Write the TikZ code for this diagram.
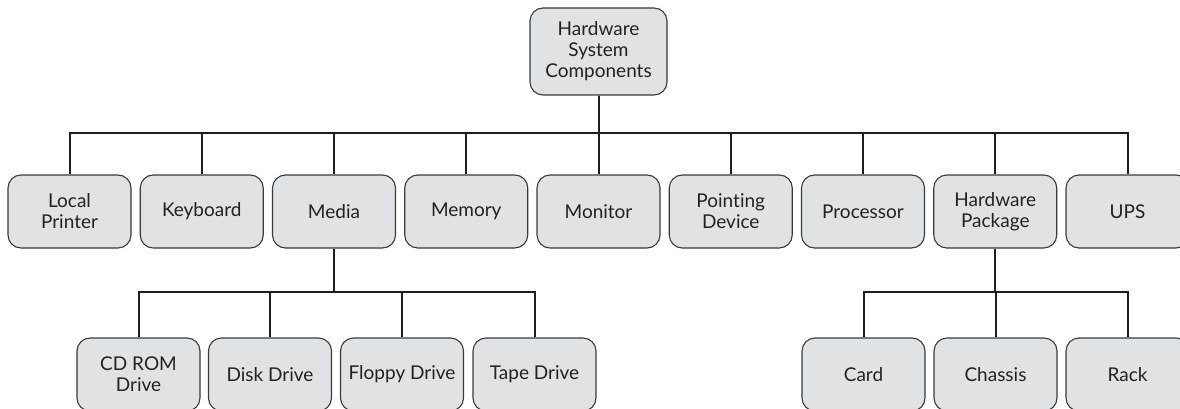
\documentclass[tikz,border=0pt]{standalone}
\usepackage{fontspec}
\setmainfont{Lato}[Ligatures=NoCommon]
\begin{document}
\begin{tikzpicture}[x=1pt,y=-1pt,
  box/.style={draw=boxline, fill=boxfill, line width=1.1pt, rounded corners=13pt,
    minimum width=123pt, minimum height=73pt, inner sep=0pt, align=center,
    text=textgray, font=\fontsize{19}{21}\selectfont},
  link/.style={draw=linkcol, line width=2pt}]
\definecolor{boxfill}{HTML}{E1E2E4}
\definecolor{boxline}{HTML}{3A3A3A}
\definecolor{textgray}{HTML}{222222}
\definecolor{linkcol}{HTML}{1E1E1E}
\path[use as bounding box, clip] (0,0) rectangle (1180,409);

% root
\node[box, minimum width=137pt, minimum height=87pt] (root) at (598.5,51.5) {Hardware\\System\\Components};

% second level
\node[box] (printer)  at (69.5,211.5)   {Local\\Printer};
\node[box] (keyboard) at (201.75,211.5) {Keyboard};
\node[box] (media)    at (334,211.5)    {Media};
\node[box] (memory)   at (466.25,211.5) {Memory};
\node[box] (monitor)  at (598.5,211.5)  {Monitor};
\node[box] (pointing) at (730.75,211.5) {Pointing\\Device};
\node[box] (proc)     at (863,211.5)    {Processor};
\node[box] (hwpkg)    at (995.25,211.5) {Hardware\\Package};
\node[box] (ups)      at (1127.5,211.5) {UPS};

% third level under Media
\node[box] (cdrom)  at (138.5,374.5) {CD ROM\\Drive};
\node[box] (disk)   at (270,374.5)   {Disk Drive};
\node[box] (floppy) at (402,374.5)   {Floppy Drive};
\node[box] (tape)   at (534.5,374.5) {Tape Drive};

% third level under Hardware Package
\node[box] (card)    at (863.5,374.5)  {Card};
\node[box] (chassis) at (995.5,374.5)  {Chassis};
\node[box] (rack)    at (1127.5,374.5) {Rack};

% bus levels
\coordinate (busA) at (0,133);
\coordinate (busB) at (0,292);

\foreach \c in {printer,keyboard,media,memory,monitor,pointing,proc,hwpkg,ups}
  \draw[link] (root.south) -- (root.south |- busA) -| (\c.north);
\foreach \c in {cdrom,disk,floppy,tape}
  \draw[link] (media.south) -- (media.south |- busB) -| (\c.north);
\foreach \c in {card,chassis,rack}
  \draw[link] (hwpkg.south) -- (hwpkg.south |- busB) -| (\c.north);
\end{tikzpicture}
\end{document}
